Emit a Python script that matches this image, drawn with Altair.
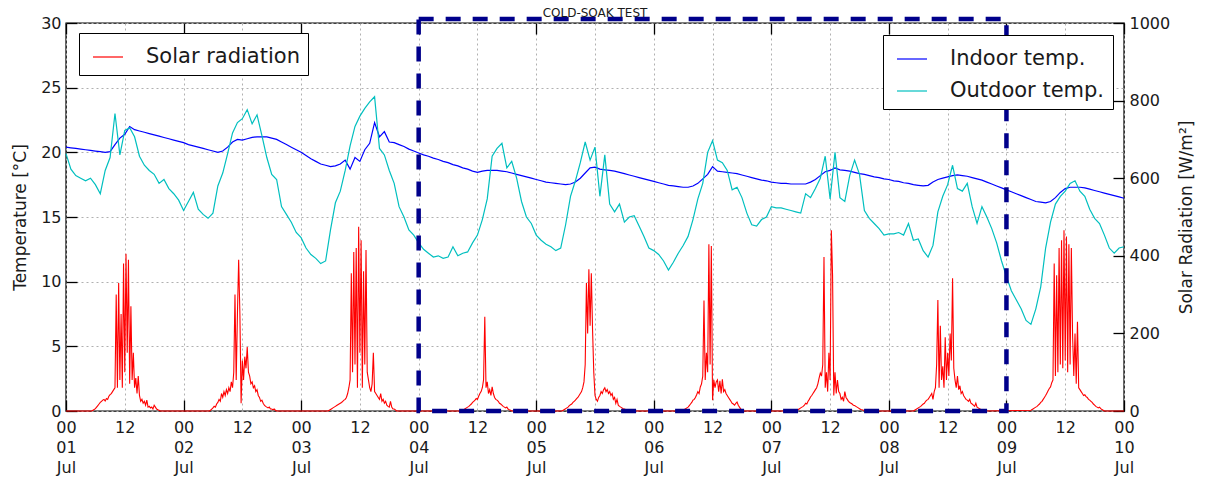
import altair as alt
import pandas as pd

# ---------------- axes / domains ----------------
X_DOMAIN = [0, 216]            # hours since 01 Jul 00:00
TEMP_DOMAIN = [0, 30]
SOLAR_DOMAIN = [0, 1000]
X_TICKS = list(range(0, 217, 12))
X_MAJOR = list(range(0, 217, 24))
T_TICKS = [0, 5, 10, 15, 20, 25, 30]
S_TICKS = [0, 200, 400, 600, 800, 1000]
TITLE = "COLD-SOAK TEST"

# ---------------- hourly temperatures (h = 0 .. 216) ----------------
INDOOR = [
    20.4, 20.35, 20.3, 20.25, 20.2, 20.15, 20.1, 20.05, 20.0, 20.05, 20.6, 21.1,
    21.4, 22.0, 21.75, 21.65, 21.55, 21.45, 21.35, 21.25, 21.15, 21.05, 20.95, 20.85,
    20.75, 20.6, 20.5, 20.4, 20.3, 20.2, 20.1, 20.0, 20.1, 20.4, 20.8, 21.0,
    20.95, 21.05, 21.15, 21.2, 21.2, 21.2, 21.1, 21.0, 20.8, 20.6, 20.4, 20.2,
    20.0, 19.75, 19.5, 19.3, 19.1, 19.0, 18.9, 18.95, 19.1, 19.4, 18.7, 19.6,
    19.3, 20.2, 20.7, 22.3, 21.2, 21.6, 20.8, 20.75, 20.6, 20.45, 20.25, 20.1,
    19.95, 19.8, 19.7, 19.55, 19.45, 19.3, 19.2, 19.05, 18.95, 18.8, 18.7, 18.55,
    18.45, 18.55, 18.6, 18.6, 18.6, 18.55, 18.5, 18.4, 18.3, 18.2, 18.1, 18.0,
    17.9, 17.8, 17.7, 17.65, 17.6, 17.55, 17.5, 17.55, 17.7, 18.0, 18.4, 18.8,
    18.85, 18.7, 18.65, 18.6, 18.55, 18.45, 18.35, 18.25, 18.15, 18.05, 17.95, 17.85,
    17.75, 17.65, 17.55, 17.45, 17.4, 17.35, 17.3, 17.3, 17.4, 17.6, 17.95, 18.3,
    18.9, 18.55, 18.5, 18.45, 18.4, 18.35, 18.25, 18.15, 18.05, 17.95, 17.85, 17.8,
    17.7, 17.65, 17.6, 17.6, 17.55, 17.55, 17.55, 17.55, 17.7, 17.9, 18.2, 18.5,
    18.6, 18.8, 18.65, 18.6, 18.55, 18.45, 18.35, 18.3, 18.2, 18.1, 18.05, 17.95,
    17.9, 17.8, 17.75, 17.65, 17.6, 17.5, 17.45, 17.4, 17.45, 17.7, 17.9, 18.0,
    18.1, 18.2, 18.25, 18.2, 18.15, 18.05, 17.95, 17.85, 17.7, 17.55, 17.4, 17.25,
    17.1, 16.95, 16.8, 16.65, 16.5, 16.35, 16.2, 16.15, 16.1, 16.2, 16.5, 16.9,
    17.2, 17.3, 17.3, 17.3, 17.25, 17.15, 17.05, 16.95, 16.85, 16.75, 16.65, 16.55,
    16.45,
]

OUTDOOR = [
    19.9, 18.7, 18.2, 18.0, 17.8, 18.0, 17.5, 16.8, 18.6, 19.6, 23.0, 19.8,
    21.7, 21.9, 21.2, 19.7, 19.0, 18.6, 18.3, 17.6, 17.9, 17.2, 16.8, 16.3,
    15.5, 16.2, 16.9, 15.6, 15.2, 14.9, 15.3, 17.4, 18.4, 19.9, 21.5, 22.3,
    22.6, 23.3, 22.2, 22.9, 21.3, 19.6, 18.3, 17.9, 15.8, 15.2, 14.6, 13.8,
    13.4, 12.6, 12.1, 11.8, 11.4, 11.6, 14.0, 16.1, 17.0, 18.6, 20.5, 22.0,
    22.8, 23.4, 23.9, 24.3, 20.3, 19.8, 18.6, 17.6, 15.8, 15.0, 14.0, 13.6,
    13.0, 12.5, 12.2, 11.9, 12.0, 11.8, 11.9, 12.7, 12.0, 12.2, 12.3, 13.0,
    13.6, 14.8, 16.4, 19.7, 20.3, 20.7, 18.8, 19.3, 18.0, 16.2, 15.0, 14.5,
    13.6, 13.2, 12.9, 12.7, 12.4, 12.6, 14.4, 16.6, 17.8, 19.2, 20.8, 19.4,
    20.4, 16.6, 19.8, 16.0, 15.4, 16.0, 14.6, 15.0, 15.1, 14.3, 13.5, 12.6,
    12.4, 12.1, 11.6, 10.9, 11.5, 12.2, 12.8, 13.5, 14.8, 16.4, 17.6, 20.0,
    20.9, 19.4, 19.2, 18.6, 17.1, 17.3, 16.5, 15.3, 14.4, 14.3, 14.8, 15.0,
    15.8, 15.7, 15.7, 15.6, 15.5, 15.4, 15.3, 16.8, 16.5, 17.2, 18.0, 19.7,
    16.4, 20.0, 16.5, 16.2, 18.2, 19.4, 18.3, 15.5, 14.9, 14.5, 14.1, 13.6,
    13.7, 13.7, 13.8, 13.6, 14.5, 13.2, 13.3, 12.4, 11.9, 12.8, 15.4, 16.6,
    17.5, 19.0, 17.2, 17.0, 17.6, 15.8, 14.5, 15.8, 15.0, 14.1, 13.0, 11.6,
    10.4, 9.3, 8.6, 7.9, 7.0, 6.7, 7.9, 9.6, 12.6, 14.6, 16.0, 16.6,
    17.0, 17.6, 17.8, 17.0, 16.6, 15.6, 14.9, 14.5, 13.6, 12.6, 12.2, 12.6,
    12.7,
]

# ---------------- solar radiation, 15-min steps from 05:00 of each day ----------------
SOLAR_JUL01 = [0, 0, 2, 4, 6, 10, 14, 18, 22, 25, 28, 30, 26, 32, 30, 38,
               42, 45, 50, 55, 60, 300, 60, 330, 80, 250, 60, 380, 100, 405, 150, 390,
               70, 270, 80, 150, 60, 85, 45, 90, 40, 25, 30, 20, 25, 15, 28, 10,
               12, 8, 10, 5, 15, 10, 5, 3, 2, 0, 0, 0, 0]
SOLAR_JUL02 = [0, 0, 2, 5, 8, 12, 10, 18, 22, 30, 25, 45, 35, 50, 40, 55,
               45, 60, 50, 75, 60, 100, 300, 80, 250, 390, 250, 20, 130, 80, 140, 110,
               165, 100, 90, 70, 75, 60, 65, 50, 55, 40, 35, 25, 28, 20, 15, 12,
               10, 8, 10, 5, 5, 3, 5, 2, 0]
SOLAR_JUL03 = [0, 0, 0, 2, 4, 6, 8, 10, 12, 14, 16, 18, 20, 22, 25, 28,
               30, 35, 45, 60, 80, 355, 100, 410, 120, 420, 60, 475, 150, 440, 60, 360,
               120, 415, 100, 80, 60, 50, 70, 150, 50, 45, 40, 35, 30, 45, 25, 30,
               20, 25, 15, 12, 10, 25, 10, 5, 5, 3, 0]
SOLAR_JUL04 = [0, 0, 0, 0, 0, 0, 0, 0, 0, 0, 0, 0, 0, 0, 0, 0,
               2, 4, 6, 8, 10, 12, 15, 18, 22, 25, 28, 32, 30, 38, 45, 50,
               60, 80, 243, 60, 75, 45, 55, 40, 62, 45, 35, 30, 28, 25, 20, 18,
               15, 12, 10, 8, 10, 5, 3, 2, 0]
SOLAR_JUL05 = [0, 0, 2, 4, 6, 8, 10, 14, 16, 18, 22, 25, 28, 32, 35, 40,
               45, 50, 60, 75, 120, 330, 200, 365, 220, 355, 210, 100, 40, 30, 25, 35,
               40, 50, 45, 55, 60, 50, 55, 45, 50, 40, 45, 30, 35, 20, 30, 15,
               12, 10, 8, 6, 5, 4, 3, 2, 1, 0]
SOLAR_JUL06 = [0, 0, 0, 0, 2, 4, 6, 8, 10, 14, 18, 22, 28, 30, 35, 42,
               50, 45, 62, 70, 90, 285, 80, 150, 100, 430, 120, 425, 28, 80, 60, 75,
               80, 50, 78, 45, 82, 50, 55, 45, 40, 35, 30, 25, 20, 18, 15, 20,
               23, 15, 10, 5, 3, 0]
SOLAR_JUL07 = [0, 2, 4, 6, 8, 10, 12, 15, 20, 18, 25, 30, 36, 40, 45, 50,
               55, 60, 70, 85, 98, 90, 120, 397, 60, 100, 50, 150, 80, 466, 350, 40,
               100, 45, 80, 50, 45, 30, 35, 25, 50, 35, 30, 25, 22, 20, 18, 15,
               14, 12, 10, 8, 6, 4, 3, 2, 2, 1, 0]
SOLAR_JUL08 = [0, 2, 4, 6, 8, 10, 12, 15, 18, 20, 25, 28, 30, 35, 40, 45,
               30, 50, 60, 120, 286, 60, 220, 80, 115, 60, 190, 80, 150, 90, 200, 130,
               342, 110, 80, 60, 90, 55, 65, 45, 50, 40, 35, 30, 28, 25, 30, 20,
               18, 15, 12, 20, 10, 8, 6, 4, 2, 1, 0]
SOLAR_JUL09 = [2, 4, 6, 8, 10, 12, 15, 18, 22, 25, 30, 35, 40, 46, 52, 58,
               62, 73, 80, 380, 90, 350, 100, 420, 120, 440, 110, 466, 130, 450, 100, 430,
               120, 420, 196, 90, 200, 70, 230, 60, 55, 50, 45, 40, 42, 37, 35, 30,
               28, 25, 22, 18, 15, 12, 10, 8, 10, 6, 4, 2, 0]
SOLAR_DAYS = [SOLAR_JUL01, SOLAR_JUL02, SOLAR_JUL03, SOLAR_JUL04, SOLAR_JUL05,
              SOLAR_JUL06, SOLAR_JUL07, SOLAR_JUL08, SOLAR_JUL09]

# cold-soak test window (hours) and top of the dashed box (W/m2)
SOAK_START, SOAK_END, SOAK_TOP = 72, 192, 1010

# ---------------- tables ----------------
n = len(INDOOR)
df_temp = pd.DataFrame({
    "hour": list(range(n)) + list(range(len(OUTDOOR))),
    "temp": INDOOR + OUTDOOR,
    "series": ["Indoor temp."] * n + ["Outdoor temp."] * len(OUTDOOR),
})

s_hour, s_val = [0.0], [0]
for d, vals in enumerate(SOLAR_DAYS):
    for i, v in enumerate(vals):
        s_hour.append(24 * d + 5 + 0.25 * i)
        s_val.append(v)
s_hour.append(216.0)
s_val.append(0)
df_solar = pd.DataFrame({"hour": s_hour, "solar": s_val, "series": "Solar radiation"})

df_soak = pd.DataFrame({"start": [SOAK_START], "end": [SOAK_END], "bottom": [0], "top": [SOAK_TOP]})
df_title = pd.DataFrame({"label": [TITLE]})

FONT = "DejaVu Sans"
TXT = "#1a1a1a"
xscale = alt.Scale(domain=X_DOMAIN, nice=False, zero=False)

label_expr = ("datum.value % 24 == 0 ? ['00', (floor(datum.value / 24) + 1 < 10 ? '0' : '') + "
              "(floor(datum.value / 24) + 1), 'Jul'] : '12'")

x_bottom = alt.Axis(
    orient="bottom", values=X_TICKS, offset=-11, tickSize=11, tickWidth=1.3,
    tickColor={"condition": {"test": "datum.value % 24 == 0", "value": "black"}, "value": "transparent"},
    labelExpr=label_expr, labelFontSize=16, labelPadding=8, labelLineHeight=20,
    labelFlush=False, labelOverlap=False, labelFont=FONT, labelColor=TXT,
    grid=True, gridDash=[2, 3], gridColor="#b0b0b0", gridWidth=1,
    domain=False, title=None,
)
y_left = alt.Axis(
    orient="left", values=T_TICKS, offset=-11, tickSize=11, tickWidth=1.3, tickColor="black",
    labelFontSize=16, labelPadding=5, labelFlush=False, labelFont=FONT, labelColor=TXT,
    grid=True, gridDash=[2, 3], gridColor="#b0b0b0", gridWidth=1, domain=False,
    title="Temperature [°C]", titleFont=FONT, titleFontSize=17, titleFontWeight="normal",
    titleColor=TXT, titlePadding=11,
)
x_top = alt.Axis(
    orient="top", values=X_MAJOR, offset=-11, tickSize=11, tickWidth=1.3, tickColor="black",
    labels=False, grid=False, domain=False, title=None,
)
y_right = alt.Axis(
    orient="right", values=S_TICKS, format="d", offset=-11, tickSize=11, tickWidth=1.3,
    tickColor="black", labelFontSize=16, labelPadding=5, labelFlush=False, labelFont=FONT,
    labelColor=TXT, grid=False, domain=False,
    title="Solar Radiation [W/m²]", titleFont=FONT, titleFontSize=17, titleFontWeight="normal",
    titleColor=TXT, titlePadding=9, titleAngle=270, titleBaseline="top",
)

legend_common = dict(
    title=None, orient="none", direction="vertical", symbolType="stroke", symbolSize=900,
    symbolStrokeWidth=1.2, labelFontSize=21, labelFont=FONT, labelColor=TXT, labelLimit=400,
    padding=8, rowPadding=6, labelOffset=22, symbolOffset=5,
    strokeColor="black", fillColor="white", cornerRadius=0,
)

temps = alt.Chart(df_temp).mark_line(strokeWidth=1.2).encode(
    x=alt.X("hour:Q", scale=xscale, axis=x_bottom),
    y=alt.Y("temp:Q", scale=alt.Scale(domain=TEMP_DOMAIN, nice=False), axis=y_left),
    color=alt.Color("series:N",
                    scale=alt.Scale(domain=["Indoor temp.", "Outdoor temp."], range=["#0000FF", "#00BFBF"]),
                    legend=alt.Legend(legendX=817, legendY=12, **legend_common)),
)

solar = alt.Chart(df_solar).mark_line(strokeWidth=1.1).encode(
    x=alt.X("hour:Q", scale=xscale, axis=x_top),
    y=alt.Y("solar:Q", scale=alt.Scale(domain=SOLAR_DOMAIN, nice=False), axis=y_right),
    color=alt.Color("series:N",
                    scale=alt.Scale(domain=["Solar radiation"], range=["#FF0000"]),
                    legend=alt.Legend(legendX=13, legendY=10, **legend_common)),
)

soak = alt.Chart(df_soak).mark_rect(
    fill="white", fillOpacity=0, stroke="#00008B", strokeWidth=4.5, strokeDash=[15, 12]
).encode(
    x=alt.X("start:Q", scale=xscale, axis=None),
    x2="end:Q",
    y=alt.Y("bottom:Q", scale=alt.Scale(domain=SOLAR_DOMAIN, nice=False), axis=None),
    y2="top:Q",
)

title = alt.Chart(df_title).mark_text(
    font=FONT, fontSize=12, color=TXT, align="center", baseline="middle"
).encode(
    x=alt.value(529), y=alt.value(-10), text="label:N"
)

chart = alt.layer(temps, solar, soak, title).resolve_scale(
    x="independent", y="independent", color="independent"
).properties(
    width=1058, height=388,
    autosize=alt.AutoSizeParams(type="none"),
    padding={"left": 66, "top": 23, "right": 82, "bottom": 69},
).configure_view(stroke="black", strokeWidth=1.4)

chart.save("out.html", embed_options={"renderer": "svg", "actions": False})
